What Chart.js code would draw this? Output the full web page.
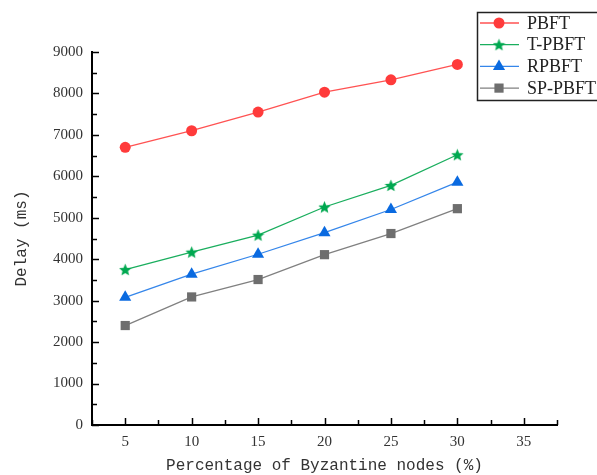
<!DOCTYPE html>
<html>
<head>
<meta charset="utf-8">
<script src="https://cdn.jsdelivr.net/npm/chart.js@4"></script>
<style>
  html, body { margin: 0; padding: 0; background: #fff; overflow: hidden; }
  #wrap { width: 597px; height: 475px; position: relative; }
</style>
</head>
<body>
<div id="wrap"><canvas id="chart"></canvas></div>
<script>
// Byzantine node percentage (x) and delay values (ms)
const xValues = [5, 10, 15, 20, 25, 30];
const pbftDelay = [6700, 7100, 7550, 8030, 8330, 8700];
const tpbftDelay = [3750, 4170, 4580, 5260, 5780, 6520];
const rpbftDelay = [3080, 3640, 4120, 4640, 5200, 5860];
const sppbftDelay = [2400, 3090, 3510, 4110, 4620, 5220];
const seriesNames = ['PBFT', 'T-PBFT', 'RPBFT', 'SP-PBFT'];

// filled five point star used as point marker
function makeStar(color, size) {
    const c = document.createElement('canvas');
    c.width = size; c.height = size;
    const g = c.getContext('2d');
    const cx = size / 2, cy = size / 2 + 0.5, R = size / 2, r = R * 0.45;
    g.beginPath();
    for (let i = 0; i < 10; i++) {
        const rad = i % 2 === 0 ? R : r;
        const a = -Math.PI / 2 + i * Math.PI / 5;
        g.lineTo(cx + rad * Math.cos(a), cy + rad * Math.sin(a));
    }
    g.closePath();
    g.fillStyle = color;
    g.fill();
    return c;
}

const toPoints = arr => arr.map((v, i) => ({ x: xValues[i], y: v }));

function series(label, data, lineColor, markColor, style, radius) {
    return {
        label: label,
        data: toPoints(data),
        borderColor: lineColor,
        backgroundColor: markColor,
        pointBackgroundColor: markColor,
        pointBorderColor: markColor,
        borderWidth: 1.3,
        pointStyle: style,
        pointRadius: radius,
        pointHoverRadius: radius,
        pointBorderWidth: 0,
        tension: 0
    };
}

const datasets = [
    series(seriesNames[0], pbftDelay, '#ff5252', '#ff3b3b', 'circle', 5.5),
    series(seriesNames[1], tpbftDelay, '#1aae5e', '#00a850', makeStar('#00a850', 13), 6),
    series(seriesNames[2], rpbftDelay, '#3586ea', '#0a6ae0', 'triangle', 7),
    series(seriesNames[3], sppbftDelay, '#808080', '#6e6e6e', 'rect', 6.5)
];

// inward ticks on both axes
const inwardTicks = {
    id: 'inwardTicks',
    afterDatasetsDraw(chart) {
        const ctx = chart.ctx;
        const xs = chart.scales.x, ys = chart.scales.y;
        ctx.save();
        ctx.strokeStyle = '#000';
        ctx.lineWidth = 1.5;
        ys.ticks.forEach(t => {
            const py = Math.round(ys.getPixelForValue(t.value)) + 0.5;
            const len = t.value % 1000 === 0 ? 7 : 5;
            ctx.beginPath();
            ctx.moveTo(xs.left, py);
            ctx.lineTo(xs.left + len, py);
            ctx.stroke();
        });
        xs.ticks.forEach(t => {
            const px = Math.round(xs.getPixelForValue(t.value)) + 0.5;
            const len = t.value % 5 === 0 ? 7 : 5;
            ctx.beginPath();
            ctx.moveTo(px, ys.bottom);
            ctx.lineTo(px, ys.bottom - len);
            ctx.stroke();
        });
        ctx.restore();
    }
};

// boxed legend in the top right corner (runs past the right edge)
const boxLegend = {
    id: 'boxLegend',
    afterDraw(chart) {
        const ctx = chart.ctx;
        const left = 477, top = 12;
        ctx.save();
        ctx.fillStyle = '#fff';
        ctx.fillRect(left, top, 200, 88);
        ctx.strokeStyle = '#222';
        ctx.lineWidth = 1.5;
        ctx.beginPath();
        ctx.moveTo(700, top + 0.5);
        ctx.lineTo(left + 0.5, top + 0.5);
        ctx.lineTo(left + 0.5, top + 88.5);
        ctx.lineTo(700, top + 88.5);
        ctx.stroke();
        chart.data.datasets.forEach((ds, i) => {
            const y = 23 + i * 21.7;
            ctx.strokeStyle = ds.borderColor;
            ctx.lineWidth = 1.3;
            ctx.beginPath();
            ctx.moveTo(480, y);
            ctx.lineTo(519, y);
            ctx.stroke();
            ctx.fillStyle = ds.pointBackgroundColor;
            ctx.strokeStyle = ds.pointBackgroundColor;
            Chart.helpers.drawPoint(ctx, {
                pointStyle: ds.pointStyle, radius: ds.pointRadius, rotation: 0, borderWidth: 0
            }, 499, y);
            ctx.fillStyle = '#222';
            ctx.font = '18px "Liberation Serif"';
            ctx.textBaseline = 'middle';
            ctx.fillText(ds.label, 527, y + 1);
        });
        ctx.restore();
    }
};

new Chart(document.getElementById('chart'), {
    type: 'line',
    data: { datasets: datasets },
    options: {
        responsive: true,
        maintainAspectRatio: false,
        animation: false,
        layout: { padding: { top: 52, right: 40, left: 0, bottom: 0 } },
        plugins: {
            legend: { display: false },
            tooltip: { enabled: false }
        },
        scales: {
            x: {
                type: 'linear',
                min: 2.5,
                max: 37.5,
                afterFit: s => { s.height = 50; },
                border: { display: true, color: '#000', width: 2 },
                grid: { display: false, drawTicks: false },
                ticks: {
                    stepSize: 2.5,
                    autoSkip: false,
                    maxRotation: 0,
                    padding: 8,
                    color: '#333',
                    font: { family: 'Liberation Serif', size: 15 },
                    callback: v => (v % 5 === 0 && v >= 5 && v <= 35) ? String(v) : ''
                },
                title: {
                    display: true,
                    text: 'Percentage of Byzantine nodes (%)',
                    color: '#333',
                    font: { family: 'Liberation Mono', size: 16, lineHeight: 1.2 },
                    padding: { top: 0, bottom: 0 }
                }
            },
            y: {
                min: 0,
                max: 9000,
                afterFit: s => { s.width = 92; },
                border: { display: true, color: '#000', width: 2 },
                grid: { display: false, drawTicks: false },
                ticks: {
                    stepSize: 500,
                    autoSkip: false,
                    padding: 9,
                    color: '#333',
                    font: { family: 'Liberation Serif', size: 15 },
                    callback: v => v % 1000 === 0 ? String(v) : ''
                },
                title: {
                    display: true,
                    text: 'Delay (ms)',
                    color: '#333',
                    font: { family: 'Liberation Mono', size: 16, lineHeight: 1.2 },
                    padding: { top: 12, bottom: 0 }
                }
            }
        }
    },
    plugins: [inwardTicks, boxLegend]
});
</script>
</body>
</html>
